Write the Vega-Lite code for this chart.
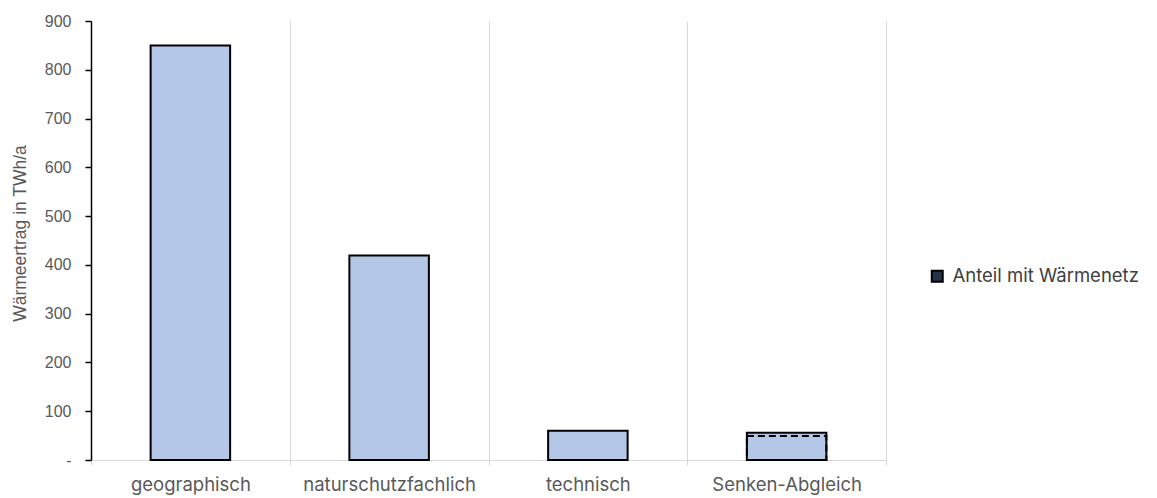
{
  "$schema": "https://vega.github.io/schema/vega-lite/v6.json",
  "autosize": {"type": "none"},
  "width": 795,
  "height": 439,
  "padding": {"left": 91, "top": 21, "right": 271, "bottom": 38},
  "config": {
    "view": {"stroke": null},
    "font": "Inter"
  },
  "datasets": {
    "bars": [
      {"Kategorie": "geographisch", "Wert": 850},
      {"Kategorie": "naturschutzfachlich", "Wert": 419},
      {"Kategorie": "technisch", "Wert": 60},
      {"Kategorie": "Senken-Abgleich", "Wert": 56}
    ],
    "anteil": [
      {"Kategorie": "Senken-Abgleich", "Wert": 49, "Serie": "Anteil mit Wärmenetz"}
    ]
  },
  "encoding": {
    "x": {
      "field": "Kategorie", "type": "nominal",
      "sort": ["geographisch", "naturschutzfachlich", "technisch", "Senken-Abgleich"],
      "scale": {"domain": ["geographisch", "naturschutzfachlich", "technisch", "Senken-Abgleich"], "paddingInner": 0, "paddingOuter": 0},
      "axis": {
        "title": null, "labelAngle": 0, "labelColor": "#595959", "labelFontSize": 18.5,
        "labelFont": "Inter", "labelPadding": 10, "tickBand": "extent", "ticks": true, "tickSize": 5,
        "tickColor": "#d9d9d9", "domainColor": "#d9d9d9", "domainWidth": 1,
        "grid": true, "gridColor": "#d9d9d9", "gridWidth": 1
      }
    }
  },
  "layer": [
    {
      "data": {"name": "anteil"},
      "mark": {"type": "square", "size": 1, "stroke": "#000000", "strokeWidth": 2, "opacity": 1, "filled": true},
      "encoding": {
        "y": {"datum": 20, "type": "quantitative"},
        "fill": {
          "field": "Serie", "type": "nominal",
          "scale": {"domain": ["Anteil mit Wärmenetz"], "range": ["#26324a"]},
          "legend": {
            "title": null, "orient": "none", "legendX": 837, "legendY": 246,
            "symbolType": "square", "symbolSize": 120,
            "symbolStrokeColor": "#000000", "symbolStrokeWidth": 2,
            "labelColor": "#404040", "labelFontSize": 18.5, "labelFont": "Inter", "labelOffset": 6,
            "labelLimit": 400
          }
        }
      }
    },
    {
      "data": {"name": "bars"},
      "mark": {"type": "bar", "fill": "#B4C7E7", "stroke": "#000000", "strokeWidth": 2, "width": {"band": 0.4}},
      "encoding": {
        "y": {
          "field": "Wert", "type": "quantitative",
          "scale": {"domain": [0, 900], "nice": false},
          "axis": {
            "title": "Wärmeertrag in TWh/a", "titleColor": "#595959", "titleFontSize": 17.5,
            "titleFont": "Liberation Sans",
            "titleFontWeight": "normal", "titleX": -71, "titleY": 212, "titleAngle": -90,
            "titleAlign": "center", "titleBaseline": "middle",
            "values": [0, 100, 200, 300, 400, 500, 600, 700, 800, 900],
            "labelExpr": "datum.value == 0 ? '-' : datum.label",
            "labelFont": "Liberation Sans",
            "labelColor": "#595959", "labelFontSize": 16, "labelPadding": 14,
            "tickColor": "#000000", "tickSize": 6, "tickWidth": 1.5,
            "domainColor": "#000000", "domainWidth": 1.5, "grid": false
          }
        }
      }
    },
    {
      "data": {"name": "anteil"},
      "mark": {"type": "bar", "fill": "transparent", "stroke": "#000000", "strokeWidth": 2, "strokeDash": [7, 4], "width": {"band": 0.4}},
      "encoding": {
        "y": {"field": "Wert", "type": "quantitative"}
      }
    }
  ]
}
